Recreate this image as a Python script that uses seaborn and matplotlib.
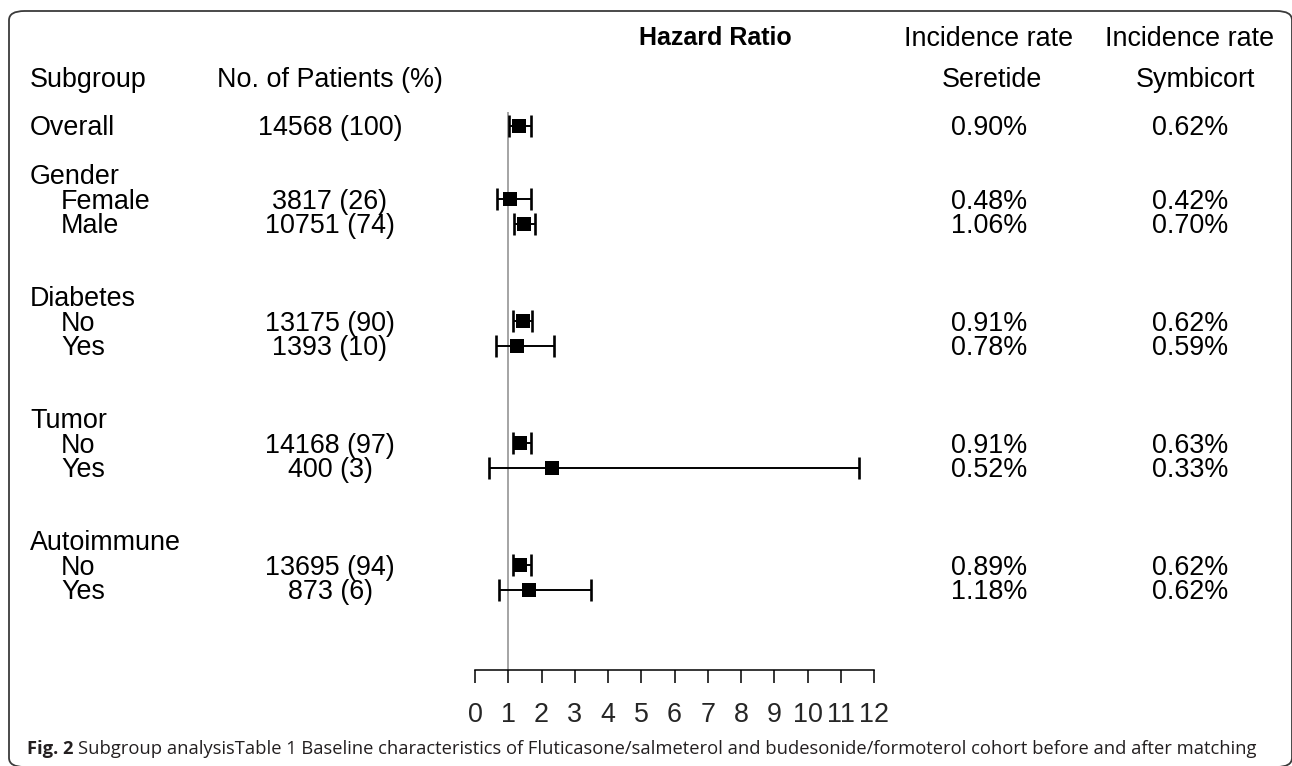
import numpy as np
import matplotlib
matplotlib.use("Agg")
import matplotlib.pyplot as plt
import matplotlib.transforms as mtransforms
from matplotlib.patches import FancyBboxPatch
import seaborn as sns

# ---- data ----
labels = ["Overall", "Gender", "Female", "Male", "Diabetes", "No", "Yes",
          "Tumor", "No", "Yes", "Autoimmune", "No", "Yes"]
rows = [0, 2, 3, 4, 7, 8, 9, 12, 13, 14, 17, 18, 19]
level = [0, 0, 1, 1, 0, 1, 1, 0, 1, 1, 0, 1, 1]
patients = ["14568 (100)", "", "3817 (26)", "10751 (74)", "", "13175 (90)", "1393 (10)",
            "", "14168 (97)", "400 (3)", "", "13695 (94)", "873 (6)"]
hr = [1.33, np.nan, 1.06, 1.47, np.nan, 1.44, 1.25, np.nan, 1.36, 2.32, np.nan, 1.36, 1.63]
ci_low = [1.03, np.nan, 0.65, 1.17, np.nan, 1.14, 0.62, np.nan, 1.14, 0.43, np.nan, 1.14, 0.72]
ci_high = [1.67, np.nan, 1.67, 1.80, np.nan, 1.70, 2.37, np.nan, 1.67, 11.55, np.nan, 1.67, 3.48]
rate_seretide = ["0.90%", "", "0.48%", "1.06%", "", "0.91%", "0.78%",
                 "", "0.91%", "0.52%", "", "0.89%", "1.18%"]
rate_symbicort = ["0.62%", "", "0.42%", "0.70%", "", "0.62%", "0.59%",
                  "", "0.63%", "0.33%", "", "0.62%", "0.62%"]
hr_ticks = list(range(0, 13))
null_hr = 1

sns.set_theme(style="white")
plt.rcParams["font.family"] = ["Liberation Sans", "DejaVu Sans"]

W, H = 1292, 766
fig = plt.figure(figsize=(W / 100, H / 100), dpi=100)

# forest panel: x 0..12 spans 475..874 px, rows spaced 24.4 px, row 0 at 126 px
ax = fig.add_axes([475 / W, 96 / H, 399 / W, 650 / H])
ax.set_xlim(0, 12)
ax.set_ylim((670 - 126) / 24.4, (20 - 126) / 24.4)

hr_a = np.array(hr)
lo_a = np.array(ci_low)
hi_a = np.array(ci_high)
r_a = np.array(rows, dtype=float)
ok = ~np.isnan(hr_a)

ax.vlines(null_hr, -0.57, ax.get_ylim()[0], color="#8c8c8c", lw=1.1, zorder=1)
ax.errorbar(hr_a[ok], r_a[ok], xerr=[hr_a[ok] - lo_a[ok], hi_a[ok] - hr_a[ok]],
            fmt="none", ecolor="black", elinewidth=1.4, capsize=7.8, capthick=1.9, zorder=2)
sns.scatterplot(x=hr_a[ok], y=r_a[ok], marker="s", s=94, color="black",
                linewidth=0, ax=ax, zorder=3)

for side in ["left", "top", "right"]:
    ax.spines[side].set_visible(False)
ax.spines["bottom"].set_color("black")
ax.spines["bottom"].set_linewidth(1.1)
ax.set_xticks(hr_ticks)
ax.set_xticklabels([str(t) for t in hr_ticks])
ax.set_yticks([])
ax.tick_params(axis="x", direction="out", length=9.4, width=1.1, color="black",
               pad=14, labelsize=19.4, bottom=True)
ax.patch.set_visible(False)

# text columns
tr = mtransforms.blended_transform_factory(fig.transFigure, ax.transData)
fs = 19.4
dy = 0.1
txt = dict(transform=tr, fontsize=fs, color="black", va="center")
for lab, r, lv, n, s1, s2 in zip(labels, rows, level, patients, rate_seretide, rate_symbicort):
    ax.text((30 + 31 * lv) / W, r + dy, lab, ha="left", **txt)
    if n:
        ax.text(330 / W, r + dy, n, ha="center", **txt)
    if s1:
        ax.text(989 / W, r + dy, s1, ha="center", **txt)
    if s2:
        ax.text(1190 / W, r + dy, s2, ha="center", **txt)

ax.text(30 / W, -2 + dy, "Subgroup", ha="left", **txt)
ax.text(330 / W, -2 + dy, "No. of Patients (%)", ha="center", **txt)
ax.text(715 / W, -3.6, "Hazard Ratio", ha="center", transform=tr, fontsize=18,
        fontweight="bold", color="black", va="center")
ax.text(989 / W, -3.55, "Incidence rate", ha="center", **txt)
ax.text(1190 / W, -3.55, "Incidence rate", ha="center", **txt)
ax.text(992 / W, -2 + dy, "Seretide", ha="center", **txt)
ax.text(1195 / W, -2 + dy, "Symbicort", ha="center", **txt)

# rounded frame (right and bottom edges run along the picture border)
frame = FancyBboxPatch((9 / W, 1 - 767 / H), 1283 / W, 756 / H,
                       boxstyle="round,pad=0,rounding_size=0.012",
                       transform=fig.transFigure, fill=False,
                       edgecolor="#3a3a3a", linewidth=1.3, zorder=0)
fig.patches.append(frame)

# caption
cap_y = 1 - 749 / H
cap_font = ["Open Sans", "DejaVu Sans"]
cap_fs = 13.25
t1 = fig.text(27 / W, cap_y, "Fig. 2", family=cap_font, fontweight="bold",
              fontsize=cap_fs, color="#231f20", va="center", ha="left")
fig.canvas.draw()
bb = t1.get_window_extent(renderer=fig.canvas.get_renderer())
fig.text((bb.x1 + 5) / W, cap_y,
         "Subgroup analysisTable 1 Baseline characteristics of Fluticasone/salmeterol "
         "and budesonide/formoterol cohort before and after matching",
         family=cap_font, fontsize=cap_fs, color="#231f20", va="center", ha="left")

fig.savefig("out.png", dpi=100, facecolor="white")
